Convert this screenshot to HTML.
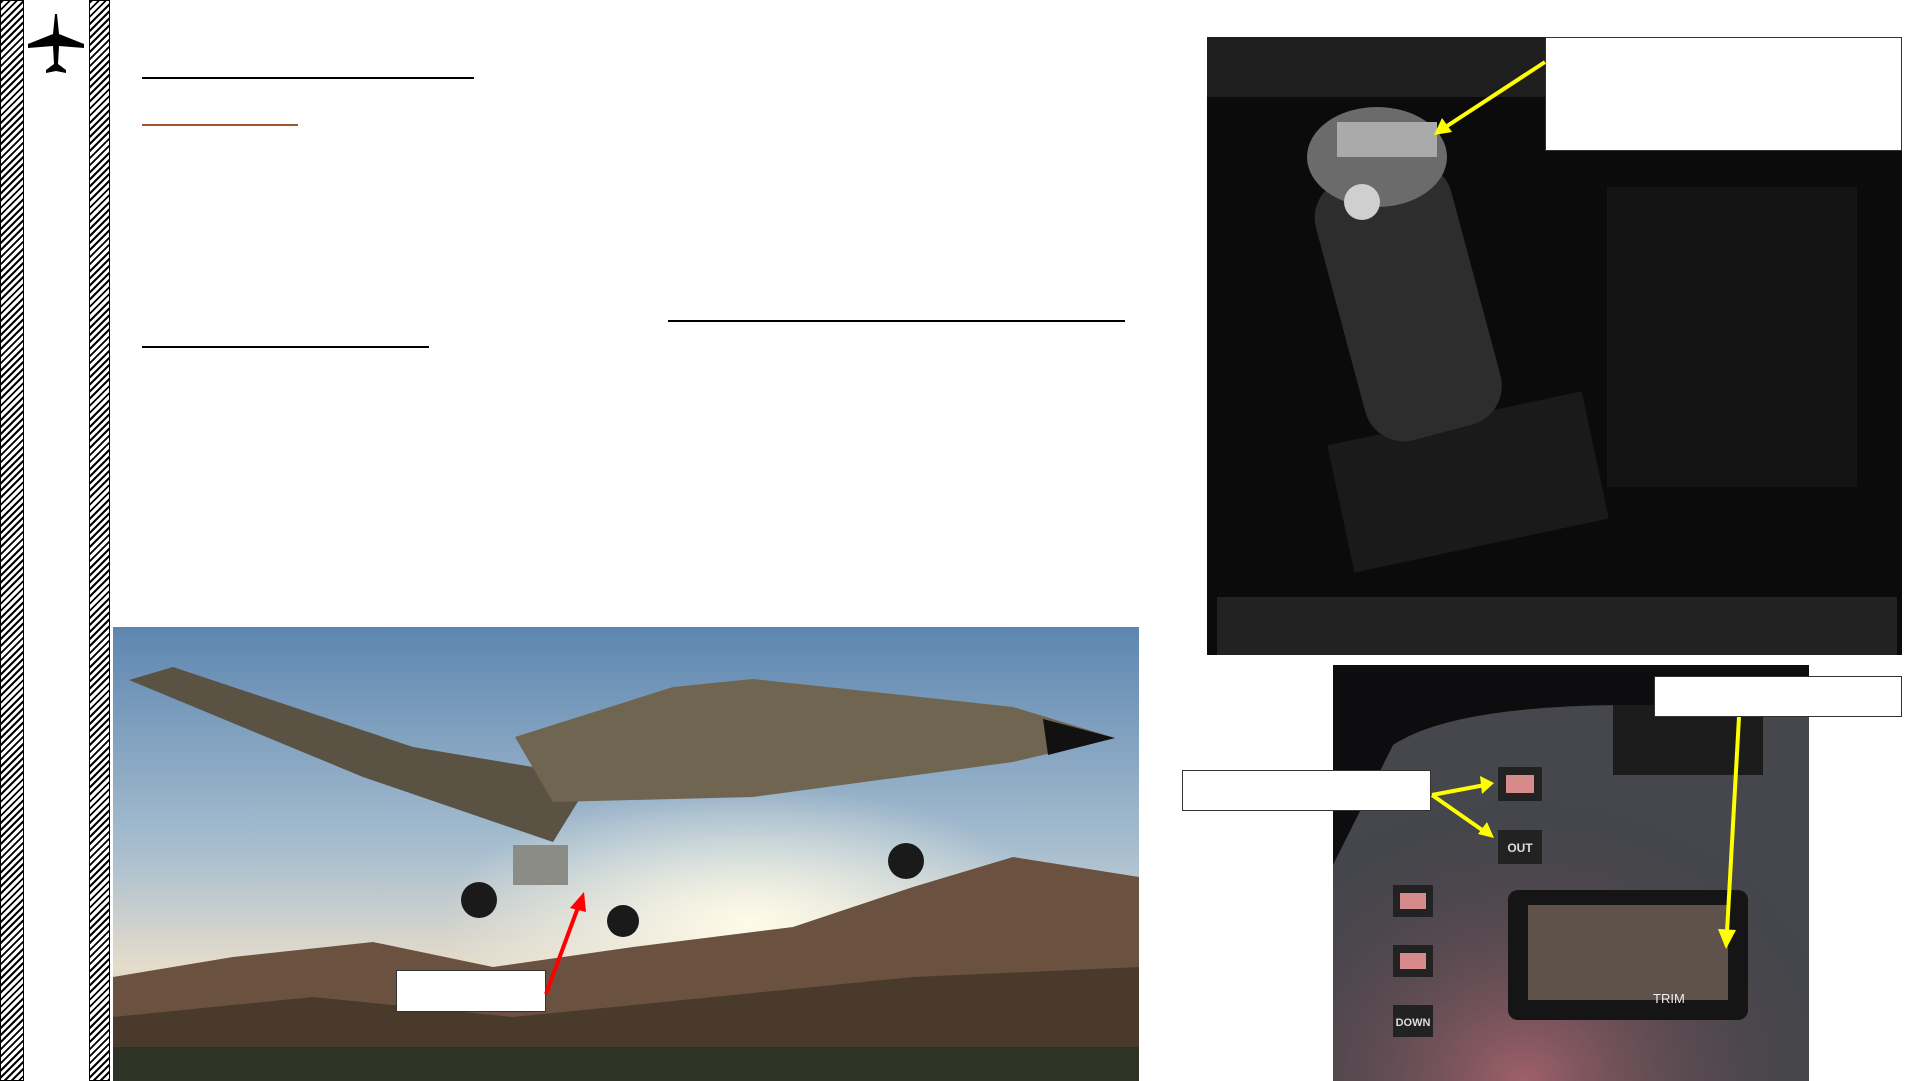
<!DOCTYPE html>
<html><head><meta charset="utf-8"><style>
html,body{margin:0;padding:0;}
body{width:1921px;height:1081px;position:relative;background:#fff;overflow:hidden;font-family:"Liberation Sans",sans-serif;}
.abs{position:absolute;}
.hatch{background:repeating-linear-gradient(135deg,#000 0 2px,#fff 2px 5px);border:1px solid #000;box-sizing:border-box;}
.box{position:absolute;background:#fff;border:1px solid #333;box-sizing:border-box;}
</style></head><body>
<div class="abs hatch" style="left:0;top:0;width:24px;height:1081px"></div>
<div class="abs hatch" style="left:89px;top:0;width:21px;height:1081px"></div>
<svg class="abs" style="left:26px;top:12px" width="60" height="70" viewBox="0 0 60 70">
<path d="M29 2 L31 2 L33 22 L58 32 L58 36 L33 34 L32 52 L40 58 L40 61 L30 59 L20 61 L20 58 L28 52 L27 34 L2 36 L2 32 L27 22 Z" fill="#000"/></svg>
<div class="abs" style="left:142px;top:77px;width:332px;height:2px;background:#000"></div>
<div class="abs" style="left:142px;top:124px;width:156px;height:2px;background:#a0522d"></div>
<div class="abs" style="left:668px;top:320px;width:457px;height:2px;background:#000"></div>
<div class="abs" style="left:142px;top:346px;width:287px;height:2px;background:#000"></div>

<svg class="abs" style="left:113px;top:627px" width="1026" height="454" viewBox="0 0 1026 454">
<defs><linearGradient id="sky" x1="0" y1="0" x2="0" y2="1"><stop offset="0" stop-color="#5d86b0"/><stop offset="0.5" stop-color="#a9bfd0"/><stop offset="0.75" stop-color="#e6dccb"/><stop offset="1" stop-color="#caa880"/></linearGradient>
<radialGradient id="sun" cx="0.62" cy="0.65" r="0.3"><stop offset="0" stop-color="#fffbe8"/><stop offset="1" stop-color="#fffbe8" stop-opacity="0"/></radialGradient></defs>
<rect width="1026" height="454" fill="url(#sky)"/><rect width="1026" height="454" fill="url(#sun)"/>
<path d="M0 350 L120 330 L260 315 L380 340 L520 320 L680 300 L800 260 L900 230 L1026 250 L1026 454 L0 454Z" fill="#6b5240"/>
<path d="M0 390 L200 370 L400 390 L600 370 L800 350 L1026 340 L1026 454 L0 454Z" fill="#4a3a2c"/>
<rect y="420" width="1026" height="34" fill="#2e3326"/>
<path d="M16 53 L60 40 L300 120 L480 150 L440 215 L250 150Z" fill="#5a5242"/>
<path d="M402 110 L560 60 L640 52 L900 80 L1002 111 L900 135 L640 170 L440 175Z" fill="#6f6550"/>
<path d="M1002 111 L930 92 L935 128Z" fill="#111"/>
<rect x="400" y="218" width="55" height="40" fill="#8c8c86"/>
<circle cx="366" cy="273" r="18" fill="#1a1a1a"/><circle cx="510" cy="294" r="16" fill="#1a1a1a"/><circle cx="793" cy="234" r="18" fill="#1a1a1a"/>
</svg>
<div class="box" style="left:396px;top:970px;width:150px;height:42px"></div>
<svg class="abs" style="left:540px;top:890px" width="50" height="110"><line x1="6" y1="104" x2="40" y2="12" stroke="#f00" stroke-width="4"/><path d="M44 2 L30 18 L46 22Z" fill="#f00"/></svg>

<svg class="abs" style="left:1207px;top:37px" width="695" height="618" viewBox="0 0 695 618">
<rect width="695" height="618" fill="#0b0b0b"/>
<rect x="0" y="0" width="695" height="60" fill="#1e1e1e"/>
<rect x="130" y="380" width="260" height="130" fill="#1a1a1a" transform="rotate(-12 260 440)"/>
<rect x="400" y="150" width="250" height="300" fill="#141414"/>
<rect x="130" y="130" width="140" height="270" rx="40" fill="#2d2d2d" transform="rotate(-15 200 260)"/>
<ellipse cx="170" cy="120" rx="70" ry="50" fill="#6b6b6b"/>
<rect x="130" y="85" width="100" height="35" fill="#aaa"/>
<circle cx="155" cy="165" r="18" fill="#cfcfcf"/>
<rect x="10" y="560" width="680" height="58" fill="#222"/>
</svg>
<div class="box" style="left:1545px;top:37px;width:357px;height:114px"></div>
<svg class="abs" style="left:1430px;top:60px" width="120" height="80"><line x1="115" y1="2" x2="14" y2="68" stroke="#ff0" stroke-width="4"/><path d="M4 75 L12 58 L22 72Z" fill="#ff0"/></svg>

<svg class="abs" style="left:1333px;top:665px" width="476" height="416" viewBox="0 0 476 416">
<defs><radialGradient id="pink" cx="0.4" cy="1" r="0.7"><stop offset="0" stop-color="#a0606a"/><stop offset="1" stop-color="#3a3b40" stop-opacity="0"/></radialGradient></defs>
<rect width="476" height="416" fill="#0d0d0f"/>
<path d="M60 80 Q120 40 300 40 L476 40 L476 416 L0 416 L0 200Z" fill="#45474c"/>
<rect width="476" height="416" fill="url(#pink)"/>
<rect x="165" y="102" width="44" height="34" fill="#222"/><rect x="173" y="110" width="28" height="18" fill="#d68a8a"/>
<rect x="165" y="165" width="44" height="34" fill="#222"/><text x="187" y="187" font-size="12" fill="#ddd" text-anchor="middle" font-weight="bold">OUT</text>
<rect x="60" y="220" width="40" height="32" fill="#222"/><rect x="67" y="228" width="26" height="16" fill="#d68a8a"/>
<rect x="60" y="280" width="40" height="32" fill="#222"/><rect x="67" y="288" width="26" height="16" fill="#d68a8a"/>
<rect x="60" y="340" width="40" height="32" fill="#222"/><text x="80" y="361" font-size="11" fill="#ddd" text-anchor="middle" font-weight="bold">DOWN</text>
<rect x="175" y="225" width="240" height="130" rx="10" fill="#151515"/>
<rect x="195" y="240" width="200" height="95" fill="#e8c7b0" opacity="0.35"/>
<text x="320" y="338" font-size="13" fill="#eee">TRIM</text>
<rect x="280" y="40" width="150" height="70" fill="#1c1c1c"/>
</svg>
<div class="box" style="left:1654px;top:676px;width:248px;height:41px"></div>
<div class="box" style="left:1182px;top:770px;width:249px;height:41px"></div>
<svg class="abs" style="left:1430px;top:770px" width="70" height="75"><line x1="2" y1="25" x2="55" y2="15" stroke="#ff0" stroke-width="4"/><path d="M64 13 L50 6 L52 24Z" fill="#ff0"/><line x1="2" y1="25" x2="55" y2="62" stroke="#ff0" stroke-width="4"/><path d="M64 68 L48 64 L57 52Z" fill="#ff0"/></svg>
<svg class="abs" style="left:1715px;top:717px" width="30" height="235"><line x1="24" y1="0" x2="12" y2="215" stroke="#ff0" stroke-width="4"/><path d="M11 232 L3 212 L21 213Z" fill="#ff0"/></svg>
</body></html>
